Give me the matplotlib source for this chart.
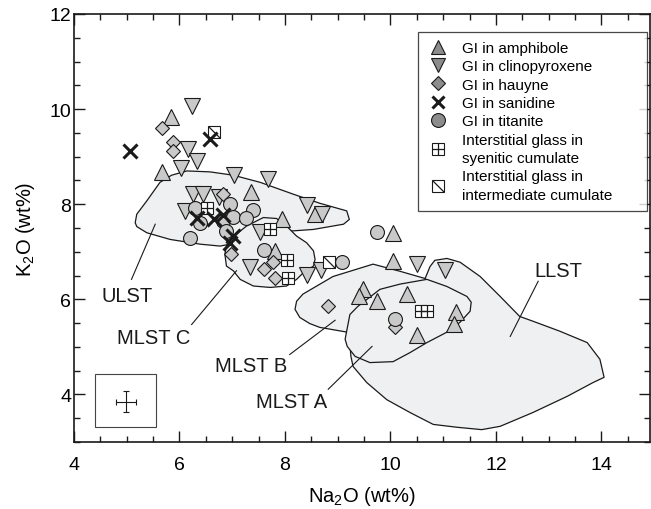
import matplotlib
matplotlib.use("Agg")
import matplotlib.pyplot as plt
from matplotlib.patches import Polygon, Rectangle
from matplotlib.lines import Line2D
from matplotlib.ticker import MultipleLocator

plt.rcParams['font.family'] = ['Liberation Sans', 'DejaVu Sans']
plt.rcParams['mathtext.fontset'] = 'custom'
plt.rcParams['mathtext.rm'] = 'Liberation Sans'
plt.rcParams['mathtext.it'] = 'Liberation Sans:italic'

# glass inclusions (GI) and interstitial glass, Na2O vs K2O (wt%)
amph_na = [5.84, 5.67, 7.36, 8.56, 7.94, 7.81, 10.05, 10.05, 9.48, 9.41, 9.74, 10.31, 11.24, 11.20, 10.50]
amph_k = [9.83, 8.68, 8.26, 7.79, 7.68, 7.02, 7.40, 6.81, 6.21, 6.08, 5.96, 6.11, 5.73, 5.49, 5.26]

cpx_na = [6.23, 6.16, 6.33, 6.02, 7.04, 7.67, 8.42, 8.71, 6.26, 6.45, 6.75, 6.10, 7.53, 7.34, 8.42, 8.68, 10.50, 11.03]
cpx_k = [10.07, 9.16, 8.91, 8.77, 8.61, 8.53, 7.99, 7.79, 8.21, 8.21, 8.16, 7.86, 7.42, 6.69, 6.51, 6.62, 6.74, 6.62]

hau_na = [5.66, 5.88, 5.88, 6.83, 6.97, 7.78, 7.60, 7.82, 8.82, 10.09]
hau_k = [9.61, 9.31, 9.12, 8.21, 6.95, 6.79, 6.64, 6.44, 5.85, 5.42]

san_na = [5.06, 6.58, 6.33, 6.65, 6.83, 7.02, 6.96]
san_k = [9.12, 9.37, 7.72, 7.69, 7.77, 7.33, 7.19]

tit_na = [6.29, 6.96, 7.40, 6.39, 6.83, 7.02, 7.27, 6.20, 6.89, 7.60, 9.09, 9.75, 10.09]
tit_k = [7.93, 8.00, 7.88, 7.60, 7.65, 7.74, 7.70, 7.30, 7.44, 7.03, 6.79, 7.42, 5.58]

syen_na = [6.52, 7.72, 8.03, 8.06, 10.58, 10.69]
syen_k = [7.93, 7.47, 6.82, 6.44, 5.75, 5.75]

inter_na = [6.65, 8.84]
inter_k = [9.52, 6.79]

# compositional fields
ulst_x = [5.19, 5.16, 5.19, 5.38, 5.63, 5.85, 6.14, 6.58, 7.02, 7.53, 8.16, 8.66, 9.17, 9.22, 9.11, 8.54, 8.16, 7.72, 7.15, 6.96, 6.77, 6.39, 5.82, 5.38]
ulst_y = [7.53, 7.61, 7.79, 8.07, 8.46, 8.61, 8.70, 8.68, 8.61, 8.46, 8.21, 8.02, 7.86, 7.68, 7.58, 7.47, 7.44, 7.43, 7.26, 7.16, 7.12, 7.16, 7.26, 7.40]
mlstc_x = [6.89, 6.86, 6.89, 7.01, 7.27, 7.59, 7.84, 8.03, 8.22, 8.41, 8.54, 8.57, 8.54, 8.35, 8.22, 8.03, 7.72, 7.40, 7.15, 7.02]
mlstc_y = [6.70, 6.95, 7.12, 7.31, 7.54, 7.72, 7.70, 7.54, 7.33, 7.19, 7.02, 6.84, 6.70, 6.56, 6.42, 6.28, 6.25, 6.28, 6.42, 6.60]
mlstb_x = [8.22, 8.34, 8.91, 9.67, 10.18, 10.65, 11.03, 10.94, 10.18, 9.18, 8.66, 8.47, 8.28, 8.19]
mlstb_y = [5.96, 6.11, 6.48, 6.74, 6.59, 6.44, 6.00, 5.58, 5.37, 5.31, 5.41, 5.49, 5.62, 5.79]
mlsta_x = [9.14, 9.23, 9.38, 9.80, 10.18, 10.69, 11.07, 11.45, 11.53, 11.51, 11.32, 11.07, 10.69, 10.37, 10.05, 9.61, 9.33, 9.18]
mlsta_y = [5.16, 5.68, 5.85, 6.21, 6.32, 6.42, 6.27, 6.06, 5.94, 5.75, 5.52, 5.31, 5.09, 4.88, 4.69, 4.67, 4.80, 5.01]
llst_x = [10.65, 10.75, 10.84, 11.07, 11.32, 11.70, 12.08, 12.45, 12.70, 13.21, 13.73, 13.97, 14.05, 13.84, 13.35, 12.70, 12.08, 11.73, 11.26, 10.81, 10.37, 9.93, 9.55, 9.29, 9.25, 9.23, 10.18]
llst_y = [6.42, 6.69, 6.82, 6.86, 6.78, 6.48, 6.06, 5.64, 5.54, 5.33, 5.09, 4.74, 4.36, 4.25, 3.96, 3.62, 3.33, 3.26, 3.31, 3.37, 3.62, 3.89, 4.25, 4.59, 4.80, 5.05, 6.32]

# field labels and leader lines
field_names = ["ULST", "MLST C", "MLST B", "MLST A", "LLST"]
label_x = [5.01, 5.52, 7.36, 8.13, 13.18]
label_y = [6.09, 5.20, 4.61, 3.85, 6.60]
leader_x = [(5.09, 5.54), (6.23, 7.08), (8.09, 8.95), (8.82, 9.65), (12.80, 12.27)]
leader_y = [(6.42, 7.58), (5.47, 6.60), (4.84, 5.56), (4.11, 5.01), (6.38, 5.22)]

# analytical uncertainty
err_x, err_y = 4.98, 3.85
err_dx, err_dy = 0.19, 0.22
err_box = (4.40, 3.32, 1.16, 1.10)

FILL = '#eff0f1'
GREY = '#c9c9c9'
LEG_GREY = '#8c8c8c'

fig = plt.figure(figsize=(6.51, 5.1), dpi=100)
ax = fig.add_axes([74 / 651, 67 / 510, 576 / 651, 428 / 510])

fields = [(ulst_x, ulst_y, 1.0), (mlstc_x, mlstc_y, 1.1), (llst_x, llst_y, 1.0),
          (mlstb_x, mlstb_y, 1.2), (mlsta_x, mlsta_y, 1.3)]
for fx, fy, z in fields:
    ax.add_patch(Polygon(list(zip(fx, fy)), closed=True, facecolor=FILL,
                         edgecolor='#1a1a1a', linewidth=0.9, zorder=z))

for name, tx, ty, lx, ly in zip(field_names, label_x, label_y, leader_x, leader_y):
    ax.plot(lx, ly, color='#1a1a1a', linewidth=0.8, zorder=2)
    ax.text(tx, ty, name, fontsize=14.5, ha='center', va='center', color='#1a1a1a', zorder=2)

mk = dict(linestyle='none', markeredgecolor='#1a1a1a', markeredgewidth=0.8)
ax.plot(amph_na, amph_k, marker='^', markersize=11, markerfacecolor=GREY, zorder=3, **mk)
ax.plot(cpx_na, cpx_k, marker='v', markersize=11, markerfacecolor=GREY, zorder=3, **mk)
ax.plot(hau_na, hau_k, marker='D', markersize=7, markerfacecolor=GREY, zorder=3, **mk)
ax.plot(tit_na, tit_k, marker='o', markersize=10, markerfacecolor=GREY, zorder=4, **mk)
ax.plot(syen_na, syen_k, marker='s', markersize=8.5, markerfacecolor='white', zorder=5, **mk)
ax.plot(syen_na, syen_k, marker='+', markersize=8.5, linestyle='none',
        markeredgecolor='#1a1a1a', markeredgewidth=0.9, zorder=5)
slash = [(-1, 1), (1, -1)]
ax.plot(inter_na, inter_k, marker='s', markersize=8.5, markerfacecolor='white', zorder=5, **mk)
ax.plot(inter_na, inter_k, marker=slash, markersize=8.5, linestyle='none',
        markerfacecolor='none', markeredgecolor='#1a1a1a', markeredgewidth=0.9, zorder=5)
ax.plot(san_na, san_k, marker='x', markersize=9.5, linestyle='none',
        markeredgecolor='#1a1a1a', markeredgewidth=2.2, zorder=6)

# error bar box
ax.add_patch(Rectangle(err_box[:2], err_box[2], err_box[3], facecolor='none',
                       edgecolor='#444444', linewidth=0.8, zorder=2))
ax.errorbar([err_x], [err_y], xerr=[err_dx], yerr=[err_dy], fmt='none',
            ecolor='#1a1a1a', elinewidth=0.8, capsize=2, capthick=0.8, zorder=2)

ax.set_xlim(4, 14.92)
ax.set_ylim(3, 12)
ax.xaxis.set_major_locator(MultipleLocator(2))
ax.xaxis.set_minor_locator(MultipleLocator(0.5))
ax.yaxis.set_major_locator(MultipleLocator(2))
ax.yaxis.set_minor_locator(MultipleLocator(0.5))
ax.tick_params(which='both', direction='in', top=True, right=True, width=1, color='#1a1a1a')
ax.tick_params(which='major', length=8)
ax.tick_params(which='minor', length=4.5)
ax.tick_params(axis='x', which='major', labelsize=14, pad=10)
ax.tick_params(axis='y', which='major', labelsize=14, pad=2)
for s in ax.spines.values():
    s.set_linewidth(1.2)
    s.set_color('#1a1a1a')

ax.set_xlabel(r'Na$_\mathrm{2}$O (wt%)', fontsize=14.5, labelpad=8)
ax.set_ylabel(r'K$_\mathrm{2}$O (wt%)', fontsize=14.5, labelpad=9)

# legend
lk = dict(linestyle='none', markeredgecolor='#1a1a1a', markeredgewidth=0.8)
h_amph = Line2D([], [], marker='^', markersize=10, markerfacecolor=LEG_GREY, **lk)
h_cpx = Line2D([], [], marker='v', markersize=10, markerfacecolor=LEG_GREY, **lk)
h_hau = Line2D([], [], marker='D', markersize=7, markerfacecolor=LEG_GREY, **lk)
h_san = Line2D([], [], marker='x', markersize=9, linestyle='none',
               markeredgecolor='#1a1a1a', markeredgewidth=2.2)
h_tit = Line2D([], [], marker='o', markersize=10, markerfacecolor=LEG_GREY, **lk)
h_syen = (Line2D([], [], marker='s', markersize=8, markerfacecolor='white', **lk),
          Line2D([], [], marker='+', markersize=8, linestyle='none',
                 markeredgecolor='#1a1a1a', markeredgewidth=0.9))
h_inter = (Line2D([], [], marker='s', markersize=8, markerfacecolor='white', **lk),
           Line2D([], [], marker=slash, markersize=8, linestyle='none', markerfacecolor='none',
                  markeredgecolor='#1a1a1a', markeredgewidth=0.9))
leg = ax.legend([h_amph, h_cpx, h_hau, h_san, h_tit, h_syen, h_inter],
                ['GI in amphibole', 'GI in clinopyroxene', 'GI in hauyne', 'GI in sanidine',
                 'GI in titanite', 'Interstitial glass in\nsyenitic cumulate',
                 'Interstitial glass in\nintermediate cumulate'],
                loc='upper left', bbox_to_anchor=(0.597, 0.0, 0.398, 0.958), mode='expand',
                fontsize=11, frameon=True, fancybox=False, shadow=False, borderpad=0.6,
                labelspacing=0.28, handlelength=1.4, handletextpad=0.88, borderaxespad=0.0)
for t in leg.get_texts():
    t.set_linespacing(1.4)
leg.get_frame().set_edgecolor('#1a1a1a')
leg.get_frame().set_linewidth(0.9)
leg.set_zorder(7)

fig.savefig('out.png', dpi=100)
